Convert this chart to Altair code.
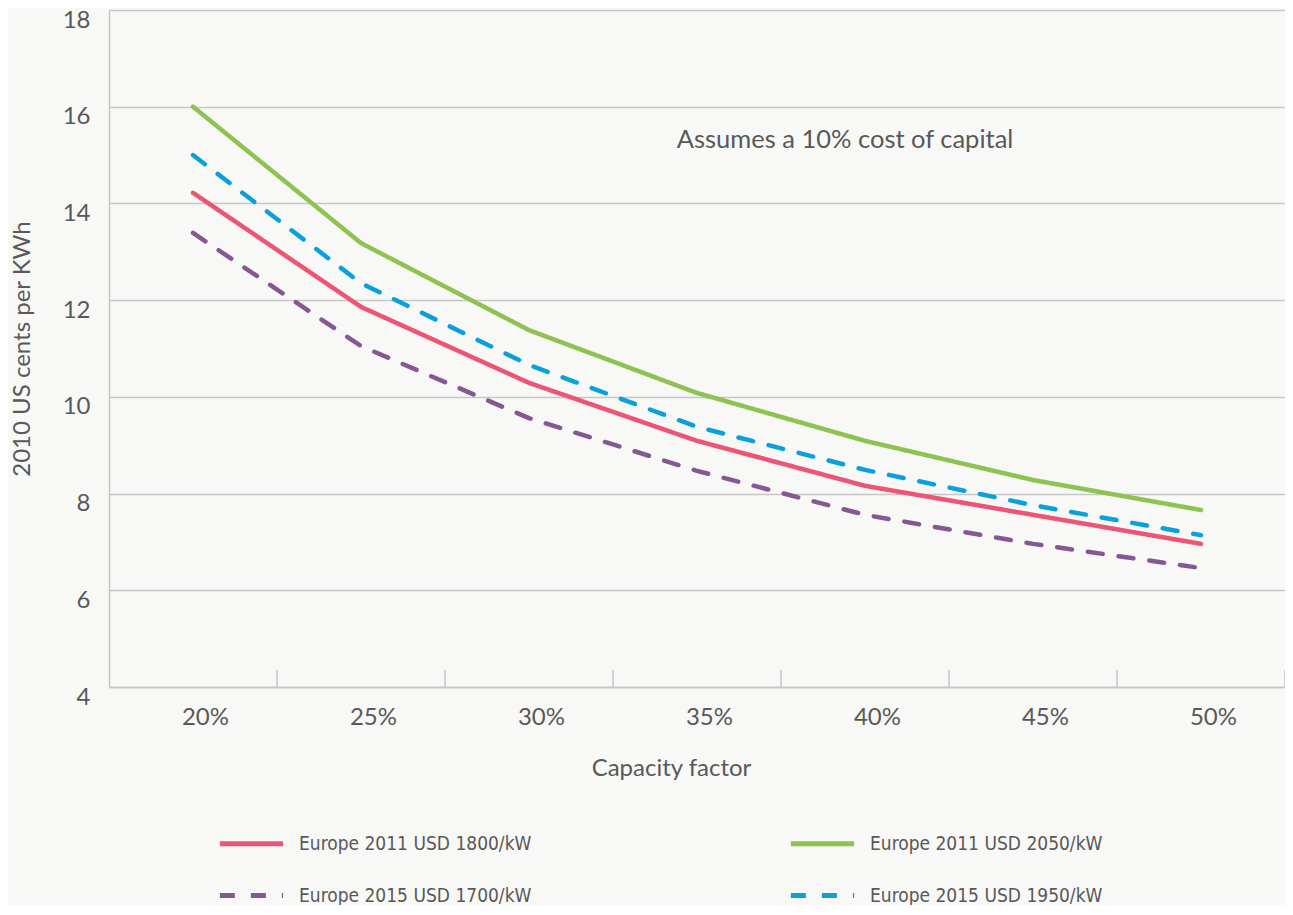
import altair as alt
import pandas as pd

# ---- data ----
cf = ["20%", "25%", "30%", "35%", "40%", "45%", "50%"]
# legend fills column-major; this order puts the 2011 series on the first row
series = [
    "Europe 2011 USD 1800/kW",
    "Europe 2015 USD 1700/kW",
    "Europe 2011 USD 2050/kW",
    "Europe 2015 USD 1950/kW",
]
red_1800 = [14.22, 11.86, 10.29, 9.09, 8.16, 7.56, 6.96]
purple_1700 = [13.39, 11.05, 9.56, 8.47, 7.56, 6.96, 6.46]
green_2050 = [16.0, 13.18, 11.38, 10.08, 9.09, 8.28, 7.66]
blue_1950 = [15.0, 12.35, 10.66, 9.38, 8.49, 7.76, 7.14]
y_ticks = [4, 6, 8, 10, 12, 14, 16, 18]
note_text = "Assumes a 10% cost of capital"

# ---- styles ----
colors = ["#ec5575", "#845893", "#8fc351", "#0aa0dc"]
dashes = [[1, 0], [15, 16], [1, 0], [15, 16]]
FONT = "Lato"
LEGEND_FONT = "Liberation Sans Narrow, DejaVu Sans Condensed, sans-serif"
TXT = "#595959"
GRID = "#c6c6c6"
BG = "#f8f8f6"

rows = []
for s, vals in zip(series, [red_1800, purple_1700, green_2050, blue_1950]):
    for c, v in zip(cf, vals):
        rows.append({"cf": c, "value": v, "series": s})
df = pd.DataFrame(rows)

xscale = alt.Scale(type="band", domain=cf, paddingInner=0, paddingOuter=0)
yscale = alt.Scale(domain=[4, 18], nice=False, zero=False)

legend = alt.Legend(
    orient="none", legendX=108, legendY=799, columns=2, title=None,
    symbolType="stroke", symbolSize=4000, symbolStrokeWidth=5,
    labelFont=LEGEND_FONT, labelFontSize=19, labelColor=TXT,
    labelOffset=13, columnPadding=248, rowPadding=7, labelLimit=400,
)

lines = alt.Chart(df).mark_line(strokeWidth=4.5, strokeCap="round", strokeJoin="round").encode(
    x=alt.X("cf:N", scale=xscale, sort=cf, title="Capacity factor",
            axis=alt.Axis(labelAngle=0, labelOffset=36, labelPadding=18, labelBaseline="top",
                          titlePadding=27, titleX=562, titleAlign="center", grid=False)),
    y=alt.Y("value:Q", scale=yscale, title="2010 US cents per KWh",
            axis=alt.Axis(values=y_ticks, labelPadding=19, labelBaseline="middle", labelOffset=10,
                          titlePadding=28, grid=True)),
    color=alt.Color("series:N", scale=alt.Scale(domain=series, range=colors), legend=legend),
    strokeDash=alt.StrokeDash("series:N", scale=alt.Scale(domain=series, range=dashes), legend=legend),
)

tick_df = pd.DataFrame({"cf": cf})
ticks = alt.Chart(tick_df).mark_rule(color=GRID, strokeWidth=1.5).encode(
    x=alt.X("cf:N", scale=xscale, sort=cf, bandPosition=1, title="Capacity factor"),
    y=alt.datum(4),
    y2=alt.datum(4.35),
)

note = alt.Chart(pd.DataFrame({"t": [note_text], "cf": ["40%"], "v": [15.31]})).mark_text(
    font=FONT, fontSize=25.5, color=TXT, align="center", baseline="middle", dx=-20
).encode(
    x=alt.X("cf:N", scale=xscale, sort=cf, title="Capacity factor"),
    y=alt.Y("v:Q", scale=yscale, title="2010 US cents per KWh"),
    text="t:N",
)

chart = alt.layer(ticks, lines, note).properties(
    width=1176, height=677, autosize="none",
    padding={"left": 101, "top": 2, "right": 0, "bottom": 218},
    background=BG,
).configure_view(stroke=None).configure_axis(
    labelFont=FONT, titleFont=FONT, labelColor=TXT, titleColor=TXT,
    labelFontSize=24, titleFontSize=24, titleFontWeight="normal",
    domainColor=GRID, gridColor=GRID, domainWidth=1.5, gridWidth=1.5, ticks=False,
)

chart.save("out.html", embed_options={"renderer": "svg", "actions": False})
